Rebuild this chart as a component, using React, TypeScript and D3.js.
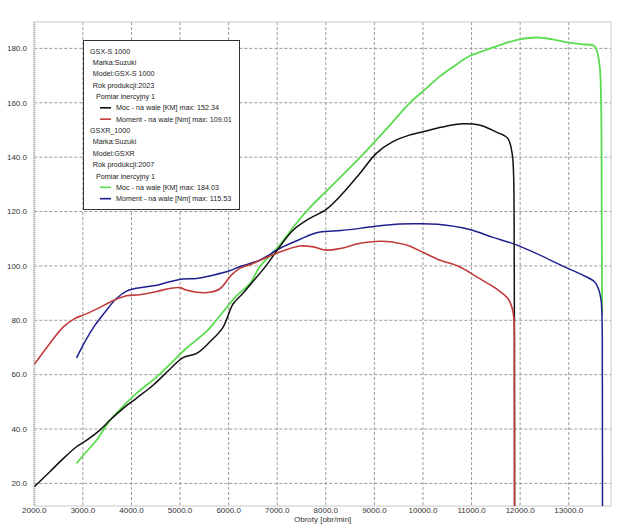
import * as d3 from "d3";
import React from "react";

// GSX-S 1000 (2023) - power [KM]
const gsxsPowerRpm = [2000, 2320, 2600, 2870, 3080, 3350, 3560, 3830, 4100, 4450, 4790, 5060, 5340, 5610, 5880, 6090, 6300, 6440, 6780, 7050, 7330, 7670, 8010, 8350, 8700, 9040, 9380, 9720, 10070, 10340, 10480, 10820, 11160, 11500, 11745, 11835, 11862, 11876, 11885];
const gsxsPower = [18.8, 24.3, 29.2, 33.5, 35.9, 39.6, 43.3, 47.6, 51.3, 56.2, 62.0, 66.3, 67.8, 72.0, 77.3, 86.0, 90.0, 93.0, 100.3, 107.0, 113.2, 117.5, 120.8, 126.7, 134.0, 141.4, 145.7, 148.1, 149.6, 150.9, 151.4, 152.3, 151.8, 149.3, 146.9, 141.4, 135.2, 116.9, 10];

// GSX-S 1000 (2023) - torque [Nm]
const gsxsTorqueRpm = [2000, 2320, 2600, 2840, 3010, 3280, 3620, 3900, 4170, 4520, 4790, 5000, 5130, 5340, 5610, 5820, 6050, 6230, 6500, 6980, 7460, 7740, 8010, 8290, 8700, 9000, 9250, 9660, 10000, 10340, 10750, 11160, 11500, 11745, 11835, 11870, 11880, 11885];
const gsxsTorque = [63.8, 71.5, 77.6, 80.7, 81.9, 84.1, 87.2, 89.0, 89.4, 90.6, 91.7, 92.0, 91.1, 90.3, 90.3, 91.6, 96.5, 99.1, 100.9, 104.6, 107.3, 107.0, 105.8, 106.4, 108.3, 109.0, 109.0, 107.7, 105.0, 102.2, 99.7, 95.4, 91.7, 88.1, 84.5, 81.0, 60, 10];

// GSXR 1000 (2007) - power [KM]
const gsxrPowerRpm = [2870, 3040, 3280, 3560, 3830, 4100, 4520, 4860, 5130, 5540, 5750, 6160, 6440, 6640, 7020, 7390, 7670, 8010, 8420, 8700, 9040, 9380, 9720, 10070, 10340, 10620, 10960, 11300, 11640, 11990, 12330, 12670, 13010, 13290, 13530, 13630, 13666, 13679, 13688];
const gsxrPower = [27.4, 31.0, 35.9, 43.3, 48.4, 53.1, 59.2, 65.0, 69.7, 75.8, 80.1, 89.0, 93.5, 99.7, 107.0, 115.6, 121.4, 127.5, 134.8, 139.8, 146.3, 153.0, 159.8, 165.3, 169.6, 173.2, 177.2, 179.4, 181.6, 183.3, 184.0, 183.3, 182.1, 181.5, 180.8, 174.5, 159.8, 116.9, 82];

// GSXR 1000 (2007) - torque [Nm]
const gsxrTorqueRpm = [2870, 3040, 3250, 3490, 3690, 3900, 4170, 4520, 4790, 5060, 5340, 5680, 6020, 6230, 6640, 7050, 7460, 7810, 8220, 8700, 9110, 9520, 9860, 10300, 10960, 11440, 11880, 12330, 12880, 13290, 13530, 13610, 13666, 13686, 13692, 13695];
const gsxrTorque = [66.2, 72.1, 78.2, 83.8, 88.0, 90.7, 92.0, 92.9, 94.2, 95.2, 95.4, 96.6, 98.2, 99.7, 102.1, 106.4, 109.7, 112.2, 112.9, 113.8, 114.8, 115.4, 115.5, 115.3, 113.4, 110.5, 108.0, 104.6, 99.9, 96.6, 94.2, 91.7, 87.4, 80.1, 60, 10];

const xTicks = [2000, 3000, 4000, 5000, 6000, 7000, 8000, 9000, 10000, 11000, 12000, 13000];
const yTicks = [20, 40, 60, 80, 100, 120, 140, 160, 180];

const legendLines = [
  { text: "GSX-S 1000", indent: 0 },
  { text: "Marka:Suzuki", indent: 1 },
  { text: "Model:GSX-S 1000", indent: 1 },
  { text: "Rok produkcji:2023", indent: 1 },
  { text: "Pomiar inercyjny 1", indent: 2 },
  { text: "Moc - na wale [KM] max: 152.34", indent: 3, color: "#111111" },
  { text: "Moment - na wale [Nm] max: 109.01", indent: 3, color: "#c23b3b" },
  { text: "GSXR_1000", indent: 0 },
  { text: "Marka:Suzuki", indent: 1 },
  { text: "Model:GSXR", indent: 1 },
  { text: "Rok produkcji:2007", indent: 1 },
  { text: "Pomiar inercyjny 1", indent: 2 },
  { text: "Moc - na wale [KM] max: 184.03", indent: 3, color: "#5cdb50" },
  { text: "Moment - na wale [Nm] max: 115.53", indent: 3, color: "#1f1f8f" },
];

const App = (): React.ReactElement => {
  const left = 34.3;
  const right = 611;
  const top = 22;
  const bottom = 506;

  const x = d3.scaleLinear().domain([2000, 13870]).range([left, right]);
  const y = d3.scaleLinear().domain([11.7, 189.7]).range([bottom, top]);

  const makePath = (rpm: number[], vals: number[]) =>
    d3
      .line<number>()
      .x((_, i) => x(rpm[i]))
      .y((d) => y(d))
      .curve(d3.curveCatmullRom.alpha(0.5))(vals) as string;

  const series = [
    { d: makePath(gsxrPowerRpm, gsxrPower), color: "#5cdb50", w: 1.8 },
    { d: makePath(gsxrTorqueRpm, gsxrTorque), color: "#1f1f8f", w: 1.5 },
    { d: makePath(gsxsPowerRpm, gsxsPower), color: "#111111", w: 1.5 },
    { d: makePath(gsxsTorqueRpm, gsxsTorque), color: "#c23b3b", w: 1.6 },
  ];

  const font = "'Liberation Sans', Arial, sans-serif";

  return (
    <svg
      width={640}
      height={529}
      style={{ position: "absolute", left: 0, top: 0, background: "#fff" }}
      fontFamily={font}
    >
      <defs>
        <clipPath id="plotClip">
          <rect x={left} y={top} width={right - left} height={bottom - top} />
        </clipPath>
      </defs>
      <rect x={0} y={0} width={640} height={529} fill="#fff" />

      {/* grid */}
      {xTicks.slice(1).map((t) => (
        <line key={"gx" + t} x1={x(t)} x2={x(t)} y1={top} y2={bottom} stroke="#9a9a9a" strokeWidth={1} strokeDasharray="3,2" />
      ))}
      {yTicks.map((t) => (
        <line key={"gy" + t} x1={left} x2={right} y1={y(t)} y2={y(t)} stroke="#9a9a9a" strokeWidth={1} strokeDasharray="3,2" />
      ))}

      {/* frame */}
      <rect x={left} y={top} width={right - left} height={bottom - top} fill="none" stroke="#c8c8c8" strokeWidth={1} />
      <line x1={left} x2={left} y1={top} y2={bottom} stroke="#bdbdbd" strokeWidth={2.5} strokeDasharray="1,1" />

      {/* curves */}
      <g clipPath="url(#plotClip)">
        {series.map((s, i) => (
          <path key={i} d={s.d} fill="none" stroke={s.color} strokeWidth={s.w} strokeLinejoin="round" />
        ))}
      </g>

      {/* y tick labels */}
      {yTicks.map((t) => (
        <text key={"ty" + t} x={27} y={y(t)} dy="0.35em" textAnchor="end" fontSize={8} fill="#333">
          {t.toFixed(1)}
        </text>
      ))}

      {/* x tick labels */}
      {xTicks.map((t) => (
        <text key={"tx" + t} x={x(t)} y={513} textAnchor="middle" fontSize={8} fill="#333">
          {t.toFixed(1)}
        </text>
      ))}
      <text x={(left + right) / 2} y={522} textAnchor="middle" fontSize={8} fill="#333">
        Obroty [obr/min]
      </text>

      {/* legend */}
      <rect x={83.5} y={40.5} width={156} height={169} fill="#fff" stroke="#333" strokeWidth={1} />
      {legendLines.map((l, i) => {
        const baseY = 53.6 + i * 11.36;
        const tx = l.indent === 0 ? 90 : l.indent === 1 ? 92.7 : l.indent === 2 ? 96 : 116;
        return (
          <g key={"lg" + i}>
            {l.color && (
              <line x1={100} x2={111} y1={baseY - 2.6} y2={baseY - 2.6} stroke={l.color} strokeWidth={1.6} />
            )}
            <text x={tx} y={baseY} fontSize={7.2} fill="#222">
              {l.text}
            </text>
          </g>
        );
      })}
    </svg>
  );
};

export default App;
